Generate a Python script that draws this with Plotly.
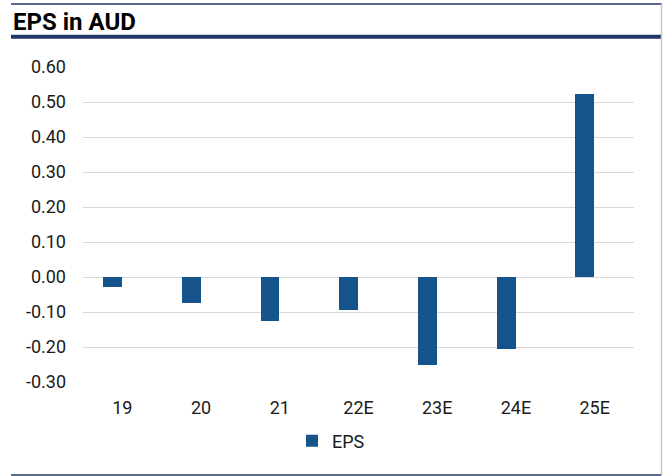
import plotly.graph_objects as go

categories = ["19", "20", "21", "22E", "23E", "24E", "25E"]
eps_values = [-0.028, -0.075, -0.125, -0.095, -0.25, -0.206, 0.524]
series_name = "EPS"
y_tick_vals = [-0.3, -0.2, -0.1, 0.0, 0.1, 0.2, 0.3, 0.4, 0.5, 0.6]
y_tick_text = ["-0.30", "-0.20", "-0.10", "0.00", "0.10", "0.20", "0.30", "0.40", "0.50", "0.60"]

W, H = 670, 476
L, R, T, B = 83, 634, 67.3, 382.0
pw, ph = R - L, B - T

def px(x):
    return (x - L) / pw

def py(y):
    return (B - y) / ph

bar_color = "#14548a"
navy = "#1f3864"
text_color = "#1a1a1a"

fig = go.Figure()
fig.add_trace(go.Bar(
    x=categories, y=eps_values, name=series_name,
    marker=dict(color=bar_color, line=dict(width=0)),
    width=0.24, offset=-0.245,
))

fig.update_layout(
    width=W, height=H,
    margin=dict(l=L, r=W - R, t=T, b=H - B),
    paper_bgcolor="white", plot_bgcolor="white",
    font=dict(family="Roboto", size=18, color=text_color),
    title=dict(text="<b>EPS in AUD</b>", x=13 / W, xref="container", xanchor="left",
               y=1 - 21.5 / H, yref="container", yanchor="middle",
               font=dict(family="Roboto", size=24, color="#000000")),
    showlegend=True,
    legend=dict(orientation="h", x=px(292), xanchor="left", y=py(441), yanchor="middle",
                font=dict(size=18, color=text_color), itemwidth=30, bgcolor="rgba(0,0,0,0)"),
    bargap=0,
)
fig.update_xaxes(showgrid=False, showline=False, zeroline=False, ticks="",
                 ticklabelstandoff=13, tickfont=dict(size=18, color=text_color))
fig.update_yaxes(range=[-0.3, 0.6], tickvals=y_tick_vals, ticktext=y_tick_text,
                 showgrid=True, gridcolor="#d9d9d9", gridwidth=1.3,
                 zeroline=True, zerolinecolor="#d9d9d9", zerolinewidth=1.3,
                 showline=False, ticks="", ticklabelstandoff=16,
                 tickfont=dict(size=18, color=text_color))

shapes = [
    dict(type="line", xref="paper", yref="paper", x0=px(11), x1=px(662), y0=py(4.3), y1=py(4.3),
         line=dict(color=navy, width=1.5)),
    dict(type="rect", xref="paper", yref="paper", x0=px(11), x1=px(661), y0=py(35), y1=py(39),
         line=dict(width=0), fillcolor=navy),
    dict(type="line", xref="paper", yref="paper", x0=px(661.5), x1=px(661.5), y0=py(4), y1=py(476),
         line=dict(color="#c8c8c8", width=1.5)),
    dict(type="line", xref="paper", yref="paper", x0=px(11), x1=px(661), y0=py(475), y1=py(475),
         line=dict(color=navy, width=1.5)),
]
fig.update_layout(shapes=shapes)

fig.write_html("out.html", config={"displayModeBar": False},
               post_script="document.body.style.margin='0';document.body.style.padding='0';")
